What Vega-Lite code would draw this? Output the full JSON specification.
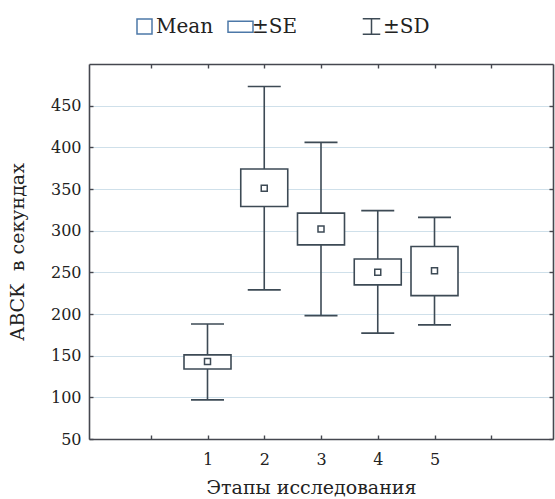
{
  "$schema": "https://vega.github.io/schema/vega-lite/v6.json",
  "width": 464,
  "height": 375,
  "autosize": {"type": "none"},
  "padding": {"left": 89, "top": 64, "right": 2, "bottom": 60},
  "background": "white",
  "config": {
    "view": {"stroke": null},
    "font": "DejaVu Serif",
    "axis": {
      "labelFont": "DejaVu Serif",
      "titleFont": "DejaVu Serif",
      "labelColor": "#222222",
      "titleColor": "#222222",
      "titleFontWeight": "normal",
      "domainColor": "#45474f",
      "domainWidth": 1.6,
      "tickColor": "#45474f",
      "tickWidth": 1.4,
      "tickSize": -4
    },
    "legend": {
      "labelFont": "DejaVu Serif"
    }
  },
  "data": {
    "values": [
      {"stage": 1, "mean": 143, "seLow": 134, "seHigh": 151, "sdLow": 97, "sdHigh": 188},
      {"stage": 2, "mean": 351, "seLow": 329, "seHigh": 374, "sdLow": 229, "sdHigh": 473},
      {"stage": 3, "mean": 302, "seLow": 283, "seHigh": 321, "sdLow": 198, "sdHigh": 406},
      {"stage": 4, "mean": 250, "seLow": 235, "seHigh": 266, "sdLow": 177, "sdHigh": 324},
      {"stage": 5, "mean": 252, "seLow": 222, "seHigh": 281, "sdLow": 187, "sdHigh": 316}
    ]
  },
  "resolve": {"axis": {"x": "independent", "y": "independent"}},
  "layer": [
    {
      "mark": {"type": "rule", "color": "#3d4a55", "strokeWidth": 1.6},
      "encoding": {
        "x": {
          "field": "stage", "type": "quantitative",
          "scale": {"domain": [-1, 7], "nice": false, "zero": false},
          "axis": {
            "orient": "bottom",
            "values": [0, 1, 2, 3, 4, 5, 6],
            "labelExpr": "datum.value >= 1 && datum.value <= 5 ? datum.label : ''",
            "grid": false,
            "domain": true,
            "labelFontSize": 16,
            "labelPadding": 16,
            "title": "Этапы исследования",
            "titleFontSize": 19,
            "titlePadding": 11,
            "titleX": 222
          }
        },
        "y": {
          "field": "sdLow", "type": "quantitative",
          "scale": {"domain": [50, 500], "nice": false, "zero": false},
          "axis": {
            "orient": "left",
            "values": [50, 100, 150, 200, 250, 300, 350, 400, 450],
            "grid": true,
            "gridColor": {"condition": {"test": "datum.value == 50", "value": "transparent"}, "value": "#cfe0ea"},
            "gridWidth": 1.2,
            "domain": true,
            "labelFontSize": 16,
            "labelPadding": 12,
            "title": "АВСК\u00a0 в секундах",
            "titleFontSize": 19,
            "titlePadding": 23
          }
        },
        "y2": {"field": "sdHigh"}
      }
    },
    {
      "mark": {"type": "tick", "orient": "horizontal", "size": 33, "thickness": 1.6, "color": "#3d4a55", "opacity": 1},
      "encoding": {
        "x": {
          "field": "stage", "type": "quantitative",
          "scale": {"domain": [-1, 7], "nice": false, "zero": false},
          "axis": {"orient": "top", "values": [0, 1, 2, 3, 4, 5, 6], "labels": false, "grid": false, "domain": true, "title": null}
        },
        "y": {
          "field": "sdHigh", "type": "quantitative",
          "scale": {"domain": [50, 500], "nice": false, "zero": false},
          "axis": {"orient": "right", "values": [50, 100, 150, 200, 250, 300, 350, 400, 450], "labels": false, "grid": false, "domain": true, "title": null}
        }
      }
    },
    {
      "mark": {"type": "tick", "orient": "horizontal", "size": 33, "thickness": 1.6, "color": "#3d4a55", "opacity": 1},
      "encoding": {
        "x": {"field": "stage", "type": "quantitative", "scale": {"domain": [-1, 7], "nice": false, "zero": false}, "axis": null},
        "y": {"field": "sdLow", "type": "quantitative", "scale": {"domain": [50, 500], "nice": false, "zero": false}, "axis": null}
      }
    },
    {
      "mark": {"type": "bar", "width": 47, "fill": "white", "stroke": "#3d4a55", "strokeWidth": 1.6},
      "encoding": {
        "x": {"field": "stage", "type": "quantitative", "scale": {"domain": [-1, 7], "nice": false, "zero": false}, "axis": null},
        "y": {"field": "seLow", "type": "quantitative", "scale": {"domain": [50, 500], "nice": false, "zero": false}, "axis": null},
        "y2": {"field": "seHigh"}
      }
    },
    {
      "mark": {"type": "point", "shape": "square", "size": 36, "filled": false, "fill": "white", "stroke": "#3d4a55", "strokeWidth": 1.5, "opacity": 1},
      "encoding": {
        "x": {"field": "stage", "type": "quantitative", "scale": {"domain": [-1, 7], "nice": false, "zero": false}, "axis": null},
        "y": {"field": "mean", "type": "quantitative", "scale": {"domain": [50, 500], "nice": false, "zero": false}, "axis": null}
      }
    },
    {
      "data": {"values": [{"key": "Mean"}, {"key": "±SE"}]},
      "mark": {"type": "point", "opacity": 0, "filled": false},
      "encoding": {
        "shape": {
          "field": "key", "type": "nominal",
          "scale": {
            "domain": ["Mean", "±SE"],
            "range": [
              "M-0.6,-0.6H0.6V0.6H-0.6Z",
              "M-1,-0.44H1V0.44H-1Z"
            ]
          },
          "legend": {
            "orient": "none",
            "direction": "horizontal",
            "legendX": 42,
            "legendY": -51,
            "title": null,
            "padding": 0,
            "symbolSize": 625,
            "symbolStrokeWidth": 1.5,
            "labelFontSize": 20,
            "labelColor": "#222222",
            "labelOffset": -2,
            "labelLimit": 400,
            "columnPadding": 11,
            "encode": {
              "symbols": {
                "update": {
                  "opacity": {"value": 1},
                  "stroke": {"value": "#3d4a55"},
                  "strokeWidth": {"value": 1.5},
                  "fill": {"value": "transparent"},
                  "size": {"value": 625}
                }
              }
            }
          }
        }
      }
    },
    {
      "data": {"values": [{"key": "±SD"}]},
      "mark": {"type": "point", "opacity": 0, "filled": false},
      "encoding": {
        "color": {
          "field": "key", "type": "nominal",
          "scale": {"domain": ["±SD"], "range": ["#3d4a55"]},
          "legend": {
            "orient": "none",
            "direction": "horizontal",
            "legendX": 269,
            "legendY": -51,
            "title": null,
            "padding": 0,
            "symbolType": "M-0.7,-0.62H0.7M0,-0.62V0.62M-0.7,0.62H0.7",
            "symbolSize": 625,
            "labelFontSize": 20,
            "labelColor": "#222222",
            "labelOffset": -2,
            "labelLimit": 400,
            "encode": {
              "symbols": {
                "update": {
                  "opacity": {"value": 1},
                  "stroke": {"value": "#3d4a55"},
                  "strokeWidth": {"value": 1.5},
                  "fill": {"value": "transparent"},
                  "size": {"value": 625}
                }
              }
            }
          }
        }
      }
    }
  ]
}
